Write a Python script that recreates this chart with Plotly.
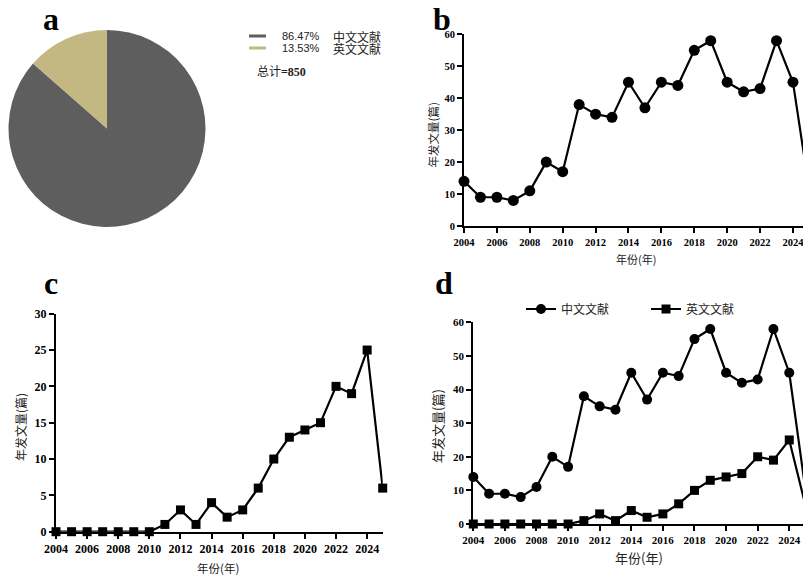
import plotly.graph_objects as go

W, H = 803, 576

# ---------------- data ----------------
years = list(range(2004, 2026))
cn_counts = [14, 9, 9, 8, 11, 20, 17, 38, 35, 34, 45, 37, 45, 44, 55, 58, 45, 42, 43, 58, 45, 11]
en_counts = [0, 0, 0, 0, 0, 0, 0, 1, 3, 1, 4, 2, 3, 6, 10, 13, 14, 15, 20, 19, 25, 6]
pie_labels = ["中文文献", "英文文献"]
pie_pct = [86.47, 13.53]
total_count = 850
pie_colors = ["#5e5e5e", "#c3b782"]
x_ticks = list(range(2004, 2025, 2))
y_ticks_60 = [0, 10, 20, 30, 40, 50, 60]
y_ticks_30 = [0, 5, 10, 15, 20, 25, 30]

CJK = "Noto Sans CJK SC"
SERIF = "Liberation Serif"


def xd(a, b):
    return [a / W, b / W]


def yd(top, bottom):
    return [1 - bottom / H, 1 - top / H]


def px(x):
    return x / W


def py(y):
    return 1 - y / H


fig = go.Figure()

# (a) pie
fig.add_trace(go.Pie(
    labels=pie_labels, values=pie_pct, sort=False, direction="clockwise", rotation=0,
    marker=dict(colors=pie_colors, line=dict(width=0)), textinfo="none", hoverinfo="label+percent",
    domain=dict(x=xd(8.5, 205.5), y=yd(30, 227)), showlegend=False,
))

# (b) Chinese
fig.add_trace(go.Scatter(
    x=years, y=cn_counts, mode="lines+markers", xaxis="x", yaxis="y",
    line=dict(color="black", width=2.2), marker=dict(symbol="circle", size=11, color="black"),
    cliponaxis=False, showlegend=False,
))

# (c) English
fig.add_trace(go.Scatter(
    x=years, y=en_counts, mode="lines+markers", xaxis="x2", yaxis="y2",
    line=dict(color="black", width=2.2), marker=dict(symbol="square", size=9, color="black"),
    cliponaxis=False, showlegend=False,
))

# (d) both
fig.add_trace(go.Scatter(
    x=years, y=cn_counts, mode="lines+markers", xaxis="x3", yaxis="y3", name=pie_labels[0],
    line=dict(color="black", width=2.2), marker=dict(symbol="circle", size=10, color="black"),
    cliponaxis=False, showlegend=True,
))
fig.add_trace(go.Scatter(
    x=years, y=en_counts, mode="lines+markers", xaxis="x3", yaxis="y3", name=pie_labels[1],
    line=dict(color="black", width=2.2), marker=dict(symbol="square", size=9, color="black"),
    cliponaxis=False, showlegend=True,
))


def ax(domain, rng, tickvals, anchor, size):
    return dict(
        domain=domain, range=rng, tickvals=tickvals, anchor=anchor, automargin=False,
        showline=True, linecolor="black", linewidth=2, ticks="outside", ticklen=5,
        tickwidth=2, tickcolor="black", showgrid=False, zeroline=False, layer="below traces",
        ticklabeloverflow="allow",
        tickfont=dict(family=SERIF, size=size, color="black", weight="bold"), fixedrange=True,
    )


layout = dict(
    template="none",
    width=W, height=H, margin=dict(l=0, r=0, t=0, b=0, pad=0, autoexpand=False),
    paper_bgcolor="white", plot_bgcolor="white",
    xaxis=ax(xd(464, 803), [2004, 2024.61], x_ticks, "y", 10.5),
    yaxis=ax(yd(34.3, 226), [0, 60], y_ticks_60, "x", 10.5),
    xaxis2=ax(xd(56, 382.7), [2004, 2025], x_ticks, "y2", 12),
    yaxis2=ax(yd(313.7, 531.7), [0, 30], y_ticks_30, "x2", 12),
    xaxis3=ax(xd(473.3, 803), [2004, 2024.87], x_ticks, "y3", 11),
    yaxis3=ax(yd(322.3, 524), [0, 60], y_ticks_60, "x3", 11),
    legend=dict(orientation="h", x=px(521), y=py(309), xanchor="left", yanchor="middle",
                font=dict(family=CJK, size=12, color="#222"), entrywidth=80,
                bgcolor="rgba(0,0,0,0)", traceorder="normal"),
    showlegend=True,
)
fig.update_layout(**layout)

ann = []
# panel letters
for letter, x, y in [("a", 50.5, 19), ("b", 442, 19), ("c", 50.5, 283), ("d", 443.5, 283)]:
    ann.append(dict(text=letter, x=px(x), y=py(y), xref="paper", yref="paper", showarrow=False,
                    xanchor="center", yanchor="middle",
                    font=dict(family=SERIF, size=32, color="black", weight="bold")))

# axis titles
for txt, x, y, size, ang in [
    ("年份(年)", 636, 259, 11, 0),
    ("年发文量(篇)", 432.5, 135, 11.5, -90),
    ("年份(年)", 218, 568, 11.5, 0),
    ("年发文量(篇)", 20, 427, 12, -90),
    ("年份(年)", 639, 557, 13, 0),
    ("年发文量(篇)", 437, 426, 13, -90),
]:
    ann.append(dict(text=txt, x=px(x), y=py(y), xref="paper", yref="paper", showarrow=False,
                    xanchor="center", yanchor="middle", textangle=ang,
                    font=dict(family=CJK, size=size, color="#222")))

# pie legend
shapes = []
for i, (lab, pct, col) in enumerate(zip(pie_labels, pie_pct, pie_colors)):
    yy = 36 + 12 * i
    shapes.append(dict(type="line", xref="paper", yref="paper", x0=px(249), x1=px(266),
                       y0=py(yy), y1=py(yy), line=dict(color=col, width=3)))
    ann.append(dict(text=f"{pct:.2f}%", x=px(280), y=py(yy), xref="paper", yref="paper",
                    showarrow=False, xanchor="left", yanchor="middle",
                    font=dict(family="Liberation Sans", size=11, color="#222")))
    ann.append(dict(text=lab, x=px(331), y=py(yy), xref="paper", yref="paper",
                    showarrow=False, xanchor="left", yanchor="middle",
                    font=dict(family=CJK, size=12, color="#222")))
ann.append(dict(text=f"总计<b><span style='font-family:{SERIF}'>={total_count}</span></b>",
                x=px(255), y=py(71), xref="paper", yref="paper", showarrow=False,
                xanchor="left", yanchor="middle", font=dict(family=CJK, size=12, color="#222")))

fig.update_layout(annotations=ann, shapes=shapes)
fig.write_html("out.html", config={"displayModeBar": False},
               post_script="document.body.style.margin='0px';document.body.style.overflow='hidden';")
